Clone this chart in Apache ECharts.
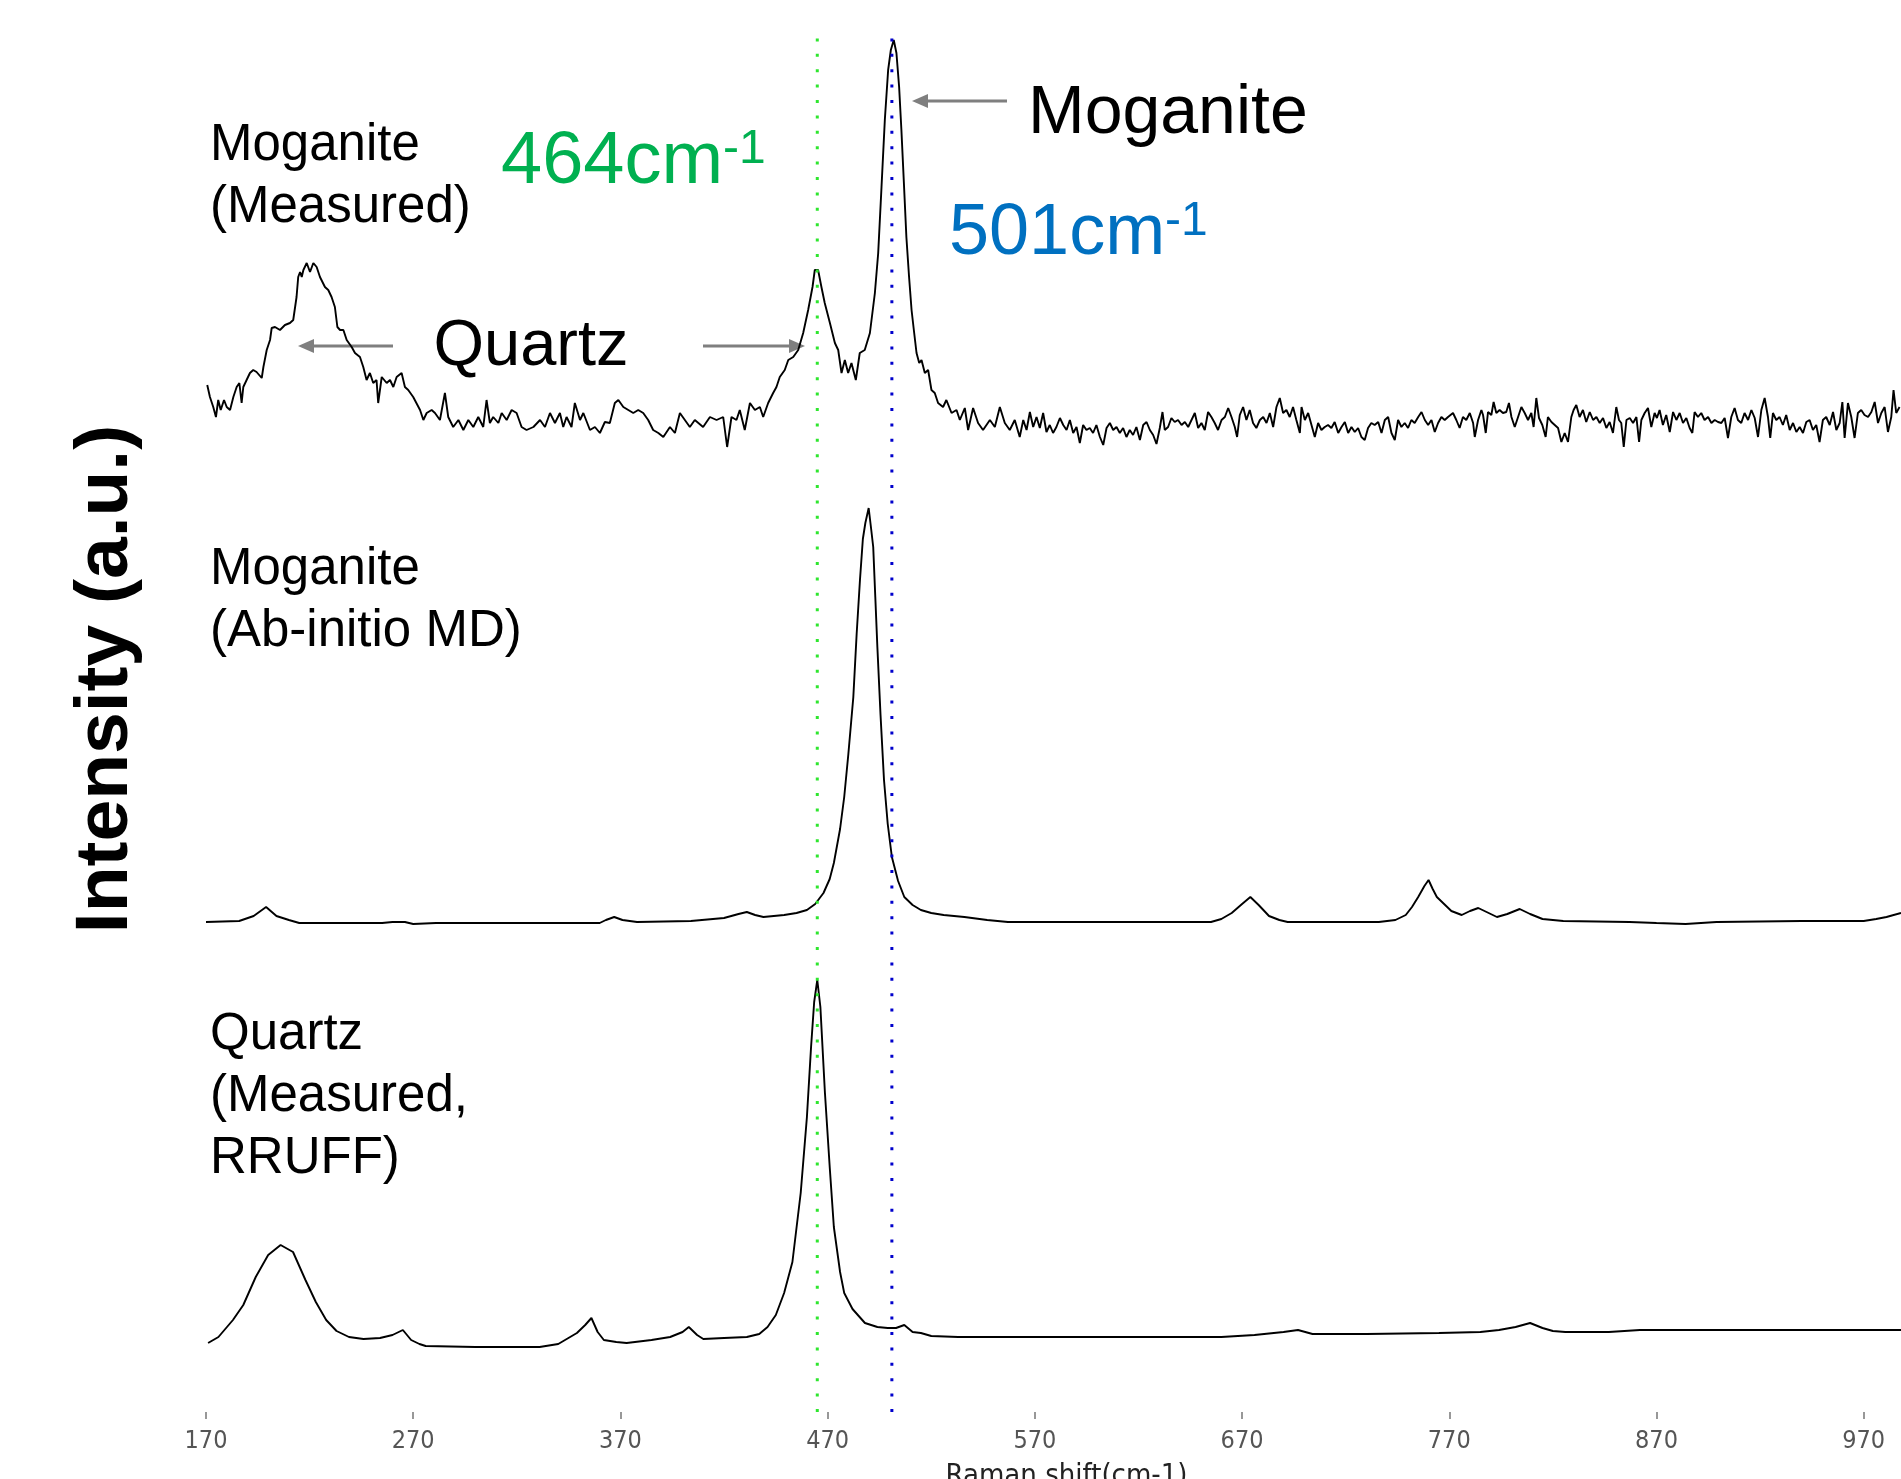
<!DOCTYPE html>
<html><head><meta charset="utf-8">
<script src="https://cdn.jsdelivr.net/npm/echarts@6.0.0/dist/echarts.min.js"></script>
<style>html,body{margin:0;padding:0;background:#fff;overflow:hidden}#c{width:1901px;height:1479px}</style>
</head><body><div id="c"></div>
<script>
// ---- data (Raman shift, intensity a.u. above each trace's own baseline) ----
const tickValues = [170, 270, 370, 470, 570, 670, 770, 870, 970];
const markerShift = [465, 501];
const markerLabels = ['464cm', '501cm'];
const traceLabels = ['Moganite\n(Measured)', 'Moganite\n(Ab-initio MD)', 'Quartz\n(Measured,\nRRUFF)'];

const moganiteMeasured = [
[170.6,75],[171.9,63],[173.5,53],[174.8,43],[175.9,60],[177.1,50],[178.7,60],[180.0,53],[181.6,50],[183.2,63],
[184.8,73],[186.1,77],[187.2,57],[188.0,73],[189.6,80],[191.2,87],[192.8,90],[194.4,88],[196.9,82],[197.7,93],
[199.3,110],[200.9,120],[201.7,132],[203.3,133],[205.7,130],[208.1,135],[210.5,137],[212.1,140],[213.7,163],[214.5,183],
[215.4,188],[216.2,183],[217.0,190],[218.6,197],[220.2,188],[221.8,197],[223.4,193],[225.0,183],[227.4,173],[229.0,170],
[230.6,163],[232.2,153],[233.4,133],[234.7,130],[236.3,130],[237.9,120],[240.3,113],[241.9,107],[244.3,103],[245.9,93],
[247.5,80],[249.1,87],[250.7,77],[252.3,80],[253.1,57],[254.8,83],[257.2,77],[258.8,80],[260.4,73],[262.0,83],
[264.4,87],[266.0,73],[267.6,70],[270.0,63],[273.3,50],[274.9,40],[276.5,47],[278.9,50],[280.5,47],[282.9,40],
[285.3,67],[286.9,43],[289.3,33],[291.8,40],[294.2,30],[296.6,40],[299.0,33],[301.4,43],[303.8,33],[305.4,60],
[307.0,37],[308.6,43],[311.1,37],[312.7,47],[315.1,40],[317.5,50],[319.9,47],[322.3,33],[324.7,30],[328.0,33],
[331.2,40],[333.6,33],[336.0,47],[338.4,37],[340.8,47],[342.4,33],[344.0,43],[346.4,33],[348.0,57],[350.5,40],
[352.1,47],[355.3,30],[357.7,33],[360.1,27],[362.5,38],[364.9,37],[367.3,57],[369.0,60],[371.4,53],[373.8,50],
[376.2,47],[378.6,50],[381.0,47],[383.4,40],[385.8,30],[388.3,27],[390.7,23],[393.9,33],[396.3,27],[398.7,47],
[401.1,40],[403.5,33],[405.9,40],
[409.9,33],[413.2,43],[416.4,40],[419.6,43],[421.5,13],[423.6,43],[426.0,40],[427.6,50],[430.0,30],[432.5,57],
[434.9,50],[437.3,53],[438.9,43],[441.3,57],[443.7,67],[445.3,73],[446.9,83],[449.3,90],[451.0,100],[453.4,103],
[455.8,110],[458.2,127],[460.6,150],[462.7,173],[463.8,190],[465.4,190],[467.0,173],[468.6,157],[471.1,137],[473.5,117],
[475.1,110],[476.7,87],[478.3,100],[479.9,87],[481.5,97],[483.6,80],[485.5,107],[487.9,110],[490.4,127],[492.8,167],
[494.4,207],[496.0,273],[497.6,340],[499.2,390],[500.5,410],[501.9,420],[503.2,407],[504.5,373],[505.6,330],[506.8,277],
[508.0,223],[509.3,183],[510.5,150],[511.6,130],[512.9,107],[514.2,97],[515.3,100],[516.9,87],[518.5,90],[520.1,70],
[521.7,67],[523.3,57],[525.7,53],[527.3,60],[529.8,47],[532.2,50],[533.8,40],[536.2,52],[537.8,30],[540.2,52],
[542.6,37],[545.0,30],[548.3,40],[550.7,33],[553.1,53],[555.5,37],[557.9,30],[560.3,40],[562.7,23],
[564.4,40],[566.0,30],[567.6,48],[569.2,33],[570.8,43],[572.4,32],[574.0,47],[575.6,28],[577.2,35],[578.8,27],
[580.4,33],[582.1,42],[583.7,35],[585.3,30],[586.9,40],[588.5,27],[590.1,33],[591.7,17],[593.3,35],[594.9,30],
[596.5,32],[598.1,27],[599.7,35],[601.4,23],[603.0,15],[604.6,32],[606.2,37],[607.8,30],[609.4,33],[611.0,27],
[612.6,32],[614.2,23],[615.8,30],[617.4,25],[619.0,33],[620.7,20],[622.3,35],[623.9,38],[625.5,30],[627.1,25],
[628.7,16],[630.3,32],[631.6,48],[632.7,30],[634.3,33],[635.9,42],[637.5,38],[639.1,40],[640.8,35],[642.4,38],
[644.0,33],[645.6,40],[647.2,47],[648.8,32],[650.4,37],[652.0,30],[653.6,48],[655.2,43],[656.8,37],[658.4,30],
[660.1,40],[661.7,43],[663.3,52],[664.9,43],[666.5,33],[667.6,23],[668.9,45],[670.5,53],[672.1,40],[673.7,50],
[675.3,37],[676.9,32],[678.6,40],[680.2,43],[681.8,37],[683.4,47],[685.0,33],[686.6,53],[688.2,62],[689.8,47],
[691.4,50],[693.0,43],[694.6,53],[696.2,40],[697.9,27],[698.7,53],[700.3,40],[701.9,47],[703.5,35],[705.1,23],
[706.7,37],[708.3,30],[709.9,33],[711.5,35],[713.1,32],[714.7,38],[716.4,27],[718.0,33],[719.6,38],[721.2,27],
[722.8,33],[724.4,28],[726.0,32],[727.6,23],[729.2,20],[730.8,32],[732.4,37],[734.0,35],[735.7,38],[737.3,27],
[738.9,40],[740.5,43],[742.1,27],[743.7,20],[745.3,40],[746.9,33],[748.5,37],[750.1,32],[751.7,40],[753.3,37],
[755.0,43],[756.6,48],[758.2,40],[759.8,35],[761.4,40],[763.0,28],[764.6,37],[766.2,43],[767.8,40],[769.4,43],
[771.8,47],[773.4,40],[775.0,32],[776.6,43],[778.2,40],[779.9,47],[781.5,37],[782.3,23],[783.9,40],[785.5,50],
[786.3,45],[787.6,27],[788.7,48],[790.3,45],[791.4,58],[792.7,47],[794.3,50],[795.9,47],[797.5,48],[798.8,57],
[800.0,43],[801.6,33],[803.2,43],[804.8,53],[806.4,47],[808.0,40],[809.6,47],[810.7,33],[812.0,62],[813.3,42],
[814.9,35],[816.5,23],[817.6,43],[819.3,38],[820.9,35],[822.5,32],[824.1,18],[825.7,27],[827.3,18],[828.9,43],
[830.0,50],[831.3,55],[832.9,43],[834.5,50],[836.1,38],[837.8,48],[839.4,40],[841.0,43],[842.6,37],[844.2,42],
[845.8,32],[847.4,38],[849.0,27],[850.6,53],[851.9,40],[853.0,37],[854.2,13],[855.5,40],[857.1,42],[858.7,37],
[860.3,43],[861.6,18],[862.7,40],[864.3,47],[865.9,52],[867.5,33],[869.1,47],[870.2,42],[871.5,50],[873.1,35],
[874.7,45],[876.4,28],[878.0,48],[879.6,40],[881.2,47],[882.8,37],[884.4,42],[886.0,32],[887.3,27],[888.4,48],
[890.0,43],[891.6,47],[893.2,40],[894.9,43],[896.5,37],[898.1,40],[899.7,38],[901.3,37],[902.9,42],[904.5,22],
[906.1,43],[907.7,52],[909.3,40],[910.9,37],[912.5,47],[914.2,40],[915.8,50],[917.4,42],[919.0,23],[920.6,50],
[922.2,62],[923.8,43],[924.9,22],[926.2,47],[927.8,40],[929.4,43],[931.0,35],[932.6,45],[934.3,30],[935.9,37],
[937.5,28],[939.1,33],[940.7,27],[942.3,38],[943.9,40],[945.5,30],[947.1,35],[948.7,18],[950.3,40],[951.9,43],
[953.6,35],[955.2,48],[956.8,30],[958.4,37],[959.7,58],[960.8,22],[962.4,57],[964.0,43],[965.6,22],[967.2,47],
[968.8,50],[970.4,45],[972.1,43],[973.7,48],[975.3,58],[976.9,37],[978.5,47],[980.1,53],[981.7,28],[983.3,43],
[984.4,70],[985.7,47],[987.3,53]
];

const moganiteAbInitio = [
[170,2],[186,3],[193,8],[199,17],[204,8],[210,4],[215,1],[231,1],[255,1],[260,2],[266,2],[270,0],[281,1],
[360,1],[363,4],[367,7],[371,4],[378,2],[404,3],[420,6],[427,10],[431,12],[435,9],[439,7],[449,9],[455,11],
[460,14],[464,20],[468,31],[471,45],[473,61],[476,95],[478,127],[480,170],[482.4,227],[484,290],[485.6,344],
[487,385],[488.2,401],[489.8,416],[491,395],[492,377],[493,327],[494,277],[495.5,210],[497.2,144],[499,100],
[501,67],[504,43],[507,27],[511,19],[515,14],[520,11],[526,9],[536,7],[547,4],[557,2],[600,2],[655,2],
[660,5],[665,11],[670,20],[674,27],[678,19],[683,8],[688,4],[692,2],[736,2],[744,4],[749,9],[752,17],
[755,27],[758,38],[760,44],[762,35],[764,27],[767,21],[771,13],[776,9],[780,13],[784,16],[789,11],[793,7],
[798,10],[804,15],[809,10],[815,5],[825,3],[857,2],[870,1],[884,0],[899,2],[940,3],[970,3],[976,5],
[981,7],[988,11]
];

const quartzRruff = [
[171,4],[176,10],[183,27],[188,42],[194,70],[200,92],[206,102],[212,95],[218,67],[223,45],[228,27],[233,16],
[239,10],[246,8],[254,9],[260,12],[265,17],[269,7],[273,3],[276,1],[300,0],[331,0],[340,3],[349,14],
[353,22],[356,29],[359,15],[362,7],[368,5],[373,4],[385,7],[394,10],[400,15],[403,20],[407,12],[410,8],
[420,9],[431,10],[437,13],[441,20],[445,32],[449,54],[453,85],[457,154],[460,230],[462,300],[463.5,345],
[465,367],[466.5,340],[468.7,254],[471,180],[473,120],[476,75],[478,54],[482,38],[488,24],[494,20],[499,19],
[503,19],[507,22],[511,15],[515,14],[520,11],[533,10],[560,10],[660,10],[676,12],[690,15],[697,17],[704,13],
[730,13],[765,14],[785,15],[794,17],[802,20],[809,24],[815,19],[820,16],[826,15],[847,15],[862,17],[900,17],
[988,17]
];

// ---- layout (not data) ----
const OFFSETS = [952, 488, 65];     // vertical stacking of the three traces
const Y_MAX = 1382, MARKER_TOP = 1376;
const SANS = '"Liberation Sans", Arial, sans-serif';
const NARROW = '"Liberation Sans Narrow", "Arial Narrow", "DejaVu Sans Condensed", sans-serif';
const ARROW = '#7f7f7f';

function stack(pairs, off) { return pairs.map(p => [p[0], p[1] + off]); }
function traceSeries(name, pairs, off) {
  return { type: 'line', name: name, data: stack(pairs, off), symbol: 'none', showSymbol: false,
    lineStyle: { color: '#000', width: 1.9 }, silent: true, z: 2 };
}
function markerSeries(x, color) {
  return { type: 'line', data: [[x, 0], [x, MARKER_TOP]], symbol: 'none', silent: true, z: 5,
    lineStyle: { color: color, width: 3, type: [3, 12.4] } };
}
function arrow(x1, y, x2) {
  const dir = x2 > x1 ? 1 : -1, head = 15, half = 7;
  return [
    { type: 'line', shape: { x1: x1, y1: y, x2: x2 - dir * head, y2: y }, style: { stroke: ARROW, lineWidth: 3 } },
    { type: 'polygon', shape: { points: [[x2, y], [x2 - dir * (head + 1), y - half], [x2 - dir * (head + 1), y + half]] }, style: { fill: ARROW } }
  ];
}
function label(text, x, y) {
  return { type: 'text', x: x, y: y, style: { text: text, fontSize: 51, lineHeight: 62, fontFamily: SANS,
    fill: '#000', align: 'left', verticalAlign: 'top' } };
}
function waveLabel(main, x, y, color, size) {
  return { type: 'text', x: x, y: y, style: { text: '{a|' + main + '}{b|-1}', fill: color, align: 'left', verticalAlign: 'middle',
    rich: { a: { fontSize: size, lineHeight: size, fontFamily: SANS, fill: color, verticalAlign: 'middle' },
            b: { fontSize: 48, lineHeight: 48, fontFamily: SANS, fill: color, verticalAlign: 'top' } } } };
}

const chart = echarts.init(document.getElementById('c'), null, { renderer: 'canvas' });
chart.setOption({
  animation: false,
  backgroundColor: '#fff',
  grid: { left: 206, right: 0, top: 30, bottom: 67, containLabel: false, outerBoundsMode: 'none' },
  xAxis: {
    type: 'value', min: 170, max: 988,
    name: 'Raman shift(cm-1)', nameLocation: 'middle', nameGap: 50,
    nameTextStyle: { fontSize: 29, fontFamily: NARROW, color: '#222', padding: [0, 0, 0, 26] },
    axisLine: { show: false },
    axisTick: { show: true, length: 7, customValues: tickValues, lineStyle: { color: '#777', width: 1.5 } },
    axisLabel: { customValues: tickValues, margin: 17, fontSize: 25, fontFamily: NARROW, color: '#555' },
    splitLine: { show: false }
  },
  yAxis: { type: 'value', min: 0, max: Y_MAX, show: false },
  series: [
    traceSeries('Moganite (Measured)', moganiteMeasured, OFFSETS[0]),
    traceSeries('Moganite (Ab-initio MD)', moganiteAbInitio, OFFSETS[1]),
    traceSeries('Quartz (Measured, RRUFF)', quartzRruff, OFFSETS[2]),
    markerSeries(markerShift[0], '#2ee62e'),
    markerSeries(markerShift[1], '#0000cc')
  ],
  graphic: [
    { type: 'text', x: 106, y: 679, rotation: Math.PI / 2,
      style: { text: 'Intensity (a.u.)', fontSize: 75, fontWeight: 'bold', fontFamily: SANS, fill: '#000',
        align: 'center', verticalAlign: 'middle' } },
    label(traceLabels[0], 210, 115),
    label(traceLabels[1], 210, 539),
    label(traceLabels[2], 210, 1004),
    { type: 'text', x: 531, y: 347, style: { text: 'Quartz', fontSize: 65, fontFamily: SANS, fill: '#000', align: 'center', verticalAlign: 'middle' } },
    { type: 'text', x: 1028, y: 114, style: { text: 'Moganite', fontSize: 68, fontFamily: SANS, fill: '#000', align: 'left', verticalAlign: 'middle' } },
    waveLabel(markerLabels[0], 501, 163, '#00b050', 74),
    waveLabel(markerLabels[1], 949, 234, '#0070c0', 72),
    ...arrow(393, 346, 298),
    ...arrow(703, 346, 805),
    ...arrow(1007, 101, 912)
  ]
});
</script></body></html>
